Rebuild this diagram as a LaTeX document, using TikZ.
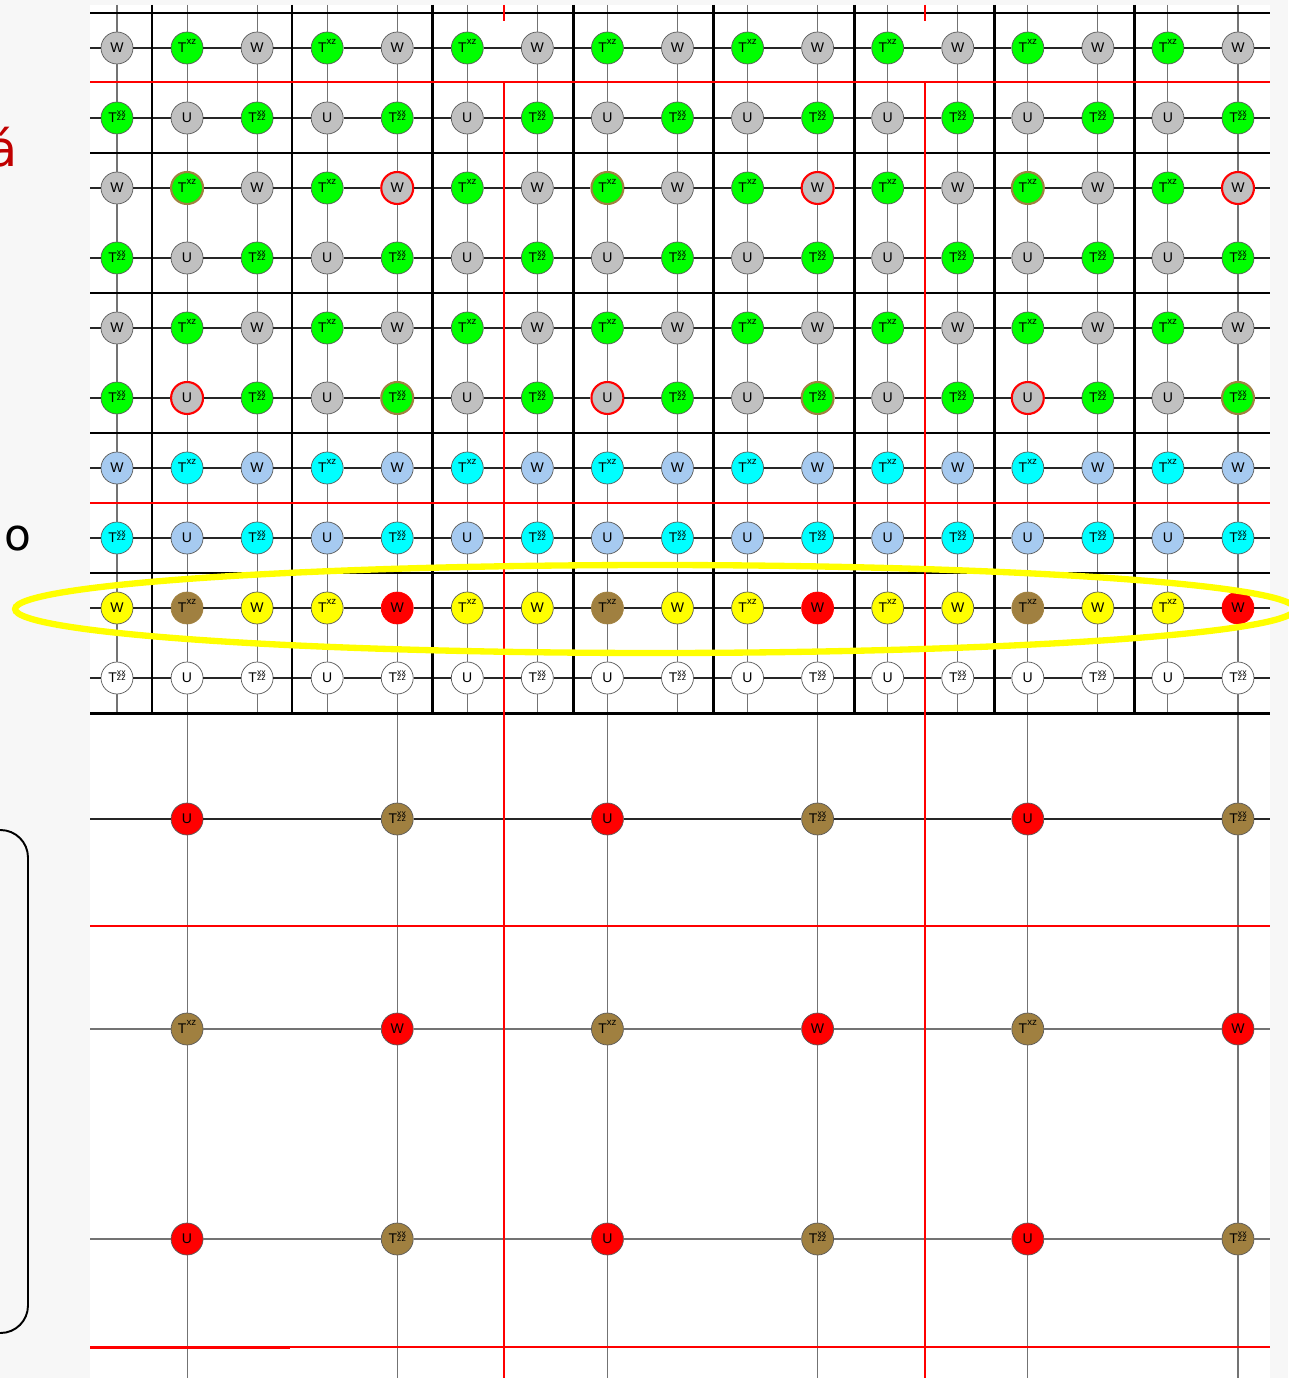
\documentclass[tikz,border=0pt]{standalone}
\usepackage{fontspec}
\setmainfont{Liberation Sans}
\newfontfamily\slidefont{DejaVu Sans}

\definecolor{sitegray}{RGB}{192,192,192}
\definecolor{sitegreen}{RGB}{0,255,0}
\definecolor{siteblue}{RGB}{166,202,240}
\definecolor{sitecyan}{RGB}{0,255,255}
\definecolor{siteyellow}{RGB}{255,255,0}
\definecolor{sitered}{RGB}{255,0,0}
\definecolor{sitebrown}{RGB}{160,128,64}
\definecolor{slidegray}{RGB}{247,247,247}
\definecolor{titlered}{RGB}{192,0,0}

\newcommand{\Txz}{T\smash{\raisebox{5pt}{\fontsize{5.5}{5.5}\selectfont xz}}}
\newcommand{\Tzz}{T\smash{{\fontsize{5}{5}\selectfont\rlap{\raisebox{4.3pt}{xx}}\raisebox{1.1pt}{zz}}}}

\begin{document}
\begin{tikzpicture}[x=0.02cm, y=-0.02cm,
  site/.style={circle, draw=black!65, line width=0.4pt, minimum size=0.64cm, inner sep=0pt, font=\fontsize{8}{8}\selectfont},
  hline/.style={black!85, line width=0.6pt},
  vline/.style={black!55, line width=0.6pt},
  block/.style={black, line width=1.7pt},
  cut/.style={sitered, line width=1.4pt},
  brownring/.style={draw=sitebrown, line width=1.2pt},
  redring/.style={draw=sitered, line width=1.2pt},
  brownfill/.style={fill=sitebrown, draw=sitebrown},
  redfill/.style={fill=sitered, draw=sitered},
  mark-2-1/.style={brownring}, mark-2-4/.style={redring},
  mark-5-1/.style={redring}, mark-5-4/.style={brownring},
  mark-8-1/.style={brownfill}, mark-8-4/.style={redfill}]

% Slide background
\useasboundingbox (0,0) rectangle (1288,1378);
\fill[slidegray] (0,0) rectangle (1288,1378);
\fill[white] (90,5) rectangle (1270,1378);

% Text fragments at the left
\node[anchor=base east, text=titlered, font=\slidefont\fontsize{28}{28}\selectfont, inner sep=0pt] (accent) at (18,167) {á};
\node[anchor=base west, font=\slidefont\fontsize{25}{25}\selectfont, inner sep=0pt] (letter) at (4,550) {o};
\draw[line width=1.1pt, rounded corners=0.55cm] (-60,830) rectangle (28,1333);

% Define the lattice nodes
\foreach \r/\wcol/\tcol in {0/sitegray/sitegreen, 1/sitegray/sitegreen, 2/sitegray/sitegreen,
  3/sitegray/sitegreen, 4/sitegray/sitegreen, 5/sitegray/sitegreen, 6/siteblue/sitecyan,
  7/siteblue/sitecyan, 8/siteyellow/siteyellow, 9/white/white}{
  \foreach \c in {0,...,16}{
    \pgfmathtruncatemacro\s{mod(\r+\c,2)}
    \pgfmathtruncatemacro\m{mod(\c,6)}
    \ifnum\s=0 \let\fcol\wcol\else\let\fcol\tcol\fi
    \node[site, fill=\fcol, mark-\r-\m/.try] (n-\r-\c) at ({117+70.06*\c},{48+70*\r})
      {\ifodd\r\relax\ifodd\c\relax U\else\Tzz\fi\else\ifodd\c\relax\Txz\else W\fi\fi};
  }
}

% Define the lower nodes
\foreach \k in {0,...,5}{
  \ifodd\k
    \node[site, fill=sitebrown] (b-0-\k) at ({187.06+210.18*\k},819) {\Tzz};
    \node[site, fill=sitered] (b-1-\k) at ({187.06+210.18*\k},1029) {W};
    \node[site, fill=sitebrown] (b-2-\k) at ({187.06+210.18*\k},1239) {\Tzz};
  \else
    \node[site, fill=sitered] (b-0-\k) at ({187.06+210.18*\k},819) {U};
    \node[site, fill=sitebrown] (b-1-\k) at ({187.06+210.18*\k},1029) {\Txz};
    \node[site, fill=sitered] (b-2-\k) at ({187.06+210.18*\k},1239) {U};
  \fi
}

% Draw the horizontal bonds
\foreach \r in {0,...,9}{
  \coordinate (L-\r) at (90,{48+70*\r});
  \coordinate (R-\r) at (1270,{48+70*\r});
  \draw[hline] (L-\r) -- (n-\r-0);
  \foreach \c [count=\d from 1] in {0,...,15} \draw[hline] (n-\r-\c) -- (n-\r-\d);
  \draw[hline] (n-\r-16) -- (R-\r);
}
\foreach \r/\y/\bond in {0/819/hline, 1/1029/vline, 2/1239/vline}{
  \coordinate (BL-\r) at (90,\y);
  \coordinate (BR-\r) at (1270,\y);
  \draw[\bond] (BL-\r) -- (b-\r-0);
  \foreach \k [count=\j from 1] in {0,...,4} \draw[\bond] (b-\r-\k) -- (b-\r-\j);
  \draw[\bond] (b-\r-5) -- (BR-\r);
}

% Draw the vertical bonds
\foreach \c in {0,...,16}{
  \coordinate (T-\c) at ({117+70.06*\c},5);
  \coordinate (B-\c) at ({117+70.06*\c},713);
  \draw[vline] (T-\c) -- (n-0-\c);
  \foreach \r [count=\d from 1] in {0,...,8} \draw[vline] (n-\r-\c) -- (n-\d-\c);
}
\foreach \c in {0,2,3,5,6,8,9,11,12,14,15} \draw[vline] (n-9-\c) -- (B-\c);
\foreach \k in {0,...,5}{
  \pgfmathtruncatemacro\c{3*\k+1}
  \coordinate (E-\k) at ({187.06+210.18*\k},1378);
  \draw[vline] (n-9-\c) -- (b-0-\k);
  \draw[vline] (b-0-\k) -- (b-1-\k);
  \draw[vline] (b-1-\k) -- (b-2-\k);
  \draw[vline] (b-2-\k) -- (E-\k);
}

% Block boundaries
\foreach \y in {13,153,293,433,573,713} \draw[block] (90,\y) -- (1270,\y);
\foreach \x in {152,292,432.5,573,713,854,994,1134} \draw[block] (\x,5) -- (\x,713);

% Red cuts
\foreach \y in {82,503,926,1347} \draw[cut] (90,\y) -- (1270,\y);
\draw[cut, line width=1.8pt] (90,1347.5) -- (290,1347.5);
\foreach \x in {504,925}{
  \draw[cut] (\x,82) -- (\x,1378);
  \draw[cut] (\x,5) -- (\x,21);
}

% Highlight the yellow row
\draw[siteyellow, line width=3.6pt] (655,609) ellipse [x radius=12.8cm, y radius=0.88cm];
\end{tikzpicture}
\end{document}
